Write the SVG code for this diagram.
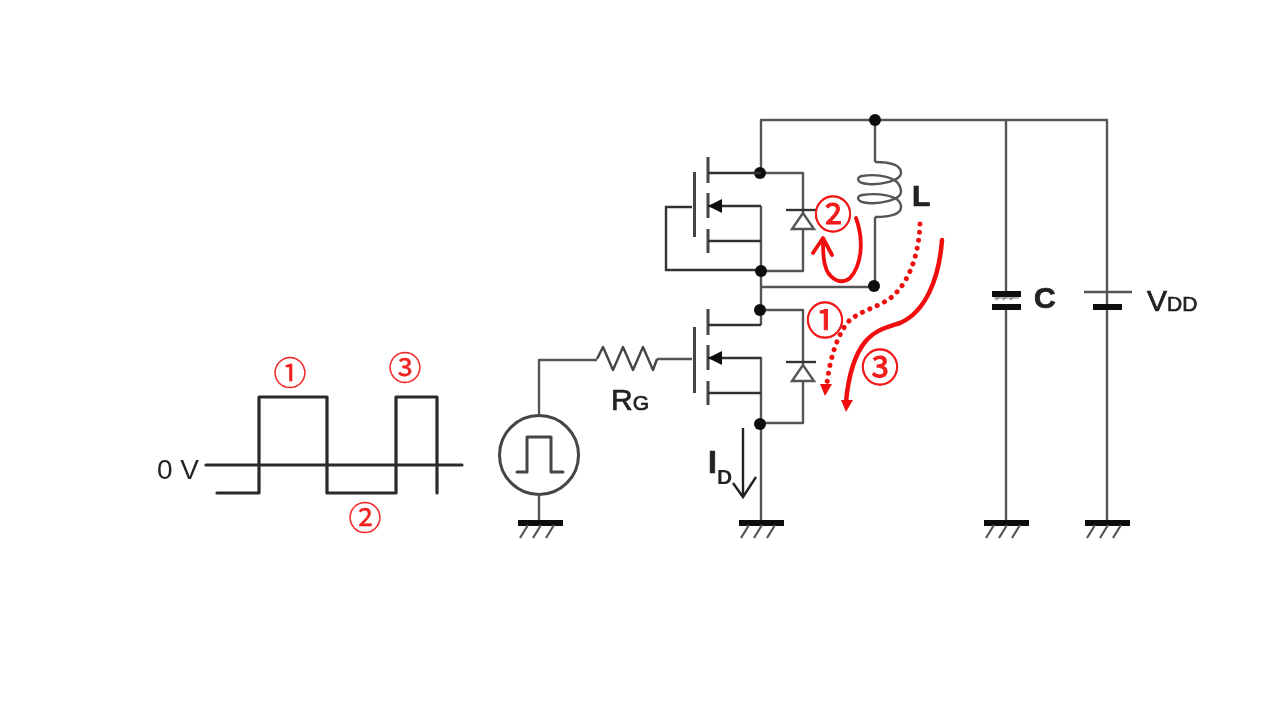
<svg xmlns="http://www.w3.org/2000/svg" width="1270" height="712" viewBox="0 0 1270 712">
<style>
.w{fill:none;stroke:#555;stroke-width:2.4;stroke-linejoin:round}
.t{fill:none;stroke:#444;stroke-width:3}
.k{fill:none;stroke:#333;stroke-width:2.4}
.b{fill:none;stroke:#2a2a2a;stroke-width:3.2;stroke-linejoin:round;stroke-linecap:round}
.bar{fill:none;stroke:#111;stroke-width:6}
.hatch{fill:none;stroke:#555;stroke-width:2.2}
.dot{fill:#111}
.red{fill:none;stroke:#f01010;stroke-linecap:round;stroke-linejoin:round}
.rf{fill:#f01010}
.lab{font-family:"Liberation Sans",Arial,sans-serif;fill:#222}
.heavy{stroke:#222;stroke-width:.7}
.num{font-family:"Noto Sans CJK JP","Noto Sans CJK SC",sans-serif;fill:#f02020;text-anchor:middle}
.thin{stroke:#f02020;stroke-width:.4}
.s{stroke:#f01010;stroke-width:.9}
</style>
<defs>
<filter id="soft" x="0" y="0" width="100%" height="100%" filterUnits="userSpaceOnUse"><feGaussianBlur stdDeviation="0.45"/></filter>
<g id="gnd"><path class="bar" d="M-22 0H23"/><path class="hatch" d="M-12 2L-20 15M1 2L-7 15M14 2L6 15"/></g>
<g id="fet">
<path class="t" d="M708 -15V11M708 21V46M708 57V81"/>
<path class="k" d="M708 1H761M708 34H761M708 69H761"/>
<path d="M708 34L722 27V41Z" fill="#111"/>
</g>
<g id="dio"><path class="k" d="M786 0H816"/><path d="M803 3L792 19H814Z" fill="#fff" stroke="#555" stroke-width="2.4"/></g>
</defs>
<rect width="1270" height="712" fill="#fff"/>
<g filter="url(#soft)">
<g id="connectors">
<path class="w" d="M761 173V120H1107V523"/>
<path class="w" d="M1006 120V294M1006 307V523"/>
<path class="w" d="M875 120V162M875 217V286"/>
<path class="w" d="M761 173H803V214M803 229V271H761"/>
<path class="w" d="M761 206V325M761 357V522"/>
<path class="w" d="M761 287H875"/>
<path class="w" d="M761 310H803V365M803 382V423H761"/>
<path class="k" d="M692 207H666V270H761"/>
<path class="w" d="M539 415V360H597M657 359H692"/>
<path class="w" d="M539 496V522"/>
</g>
<g id="dots" class="dot">
<circle cx="875" cy="120" r="6"/><circle cx="760" cy="173" r="6"/><circle cx="761" cy="271" r="6"/><circle cx="874" cy="286" r="6"/><circle cx="760" cy="310" r="6"/><circle cx="760" cy="424" r="6"/>
</g>
<g id="fet-high"><path class="t" d="M694.5 172V237"/><use href="#fet" transform="translate(0,172)"/></g>
<g id="fet-low"><path class="t" d="M694.5 327V393"/><use href="#fet" transform="translate(0,324)"/></g>
<g id="diode-high"><use href="#dio" transform="translate(0,210)"/></g>
<g id="diode-low"><use href="#dio" transform="translate(0,362)"/></g>
<g id="inductor">
<path fill="none" stroke="#555" stroke-width="2.4" d="M875 162C888 162 901 164 901 173C901 181 880 185 868 184C856 183 856 177 862 176C875 174 901 175 901 192C901 200 880 204 868 203C856 202 856 196 862 195C875 193 901 194 901 207C901 215 888 217 875 217"/>
<text class="lab heavy" x="912" y="206" font-size="30" font-weight="700">L</text>
</g>
<g id="resistor">
<path fill="none" stroke="#444" stroke-width="2.4" stroke-linejoin="round" d="M597 359L603 347L613 370L623 347L633 370L643 347L653 370L657 359"/>
<text class="lab heavy" x="611" y="410"><tspan font-size="30">R</tspan><tspan font-size="21">G</tspan></text>
</g>
<g id="source">
<circle cx="539" cy="455" r="39.5" fill="none" stroke="#444" stroke-width="3"/>
<path fill="none" stroke="#444" stroke-width="3" stroke-linejoin="round" stroke-linecap="round" d="M517 472H527V437H551V472H563"/>
</g>
<g id="gnd-source"><use href="#gnd" transform="translate(540,523)"/></g>
<g id="gnd-fet"><use href="#gnd" transform="translate(761,523)"/></g>
<g id="gnd-cap"><use href="#gnd" transform="translate(1006,523)"/></g>
<g id="gnd-bat"><use href="#gnd" transform="translate(1107,523)"/></g>
<g id="capacitor">
<path class="bar" d="M992 294H1021M992 307H1021" stroke-width="5"/>
<path fill="none" stroke="#777" stroke-width="1.2" d="M996 300L999 297M1003 300L1006 297M1010 300L1013 297M994 298H1019"/>
<text class="lab heavy" x="1034" y="308" font-size="30" font-weight="700">C</text>
</g>
<g id="battery">
<path class="w" d="M1084 292H1132"/>
<path class="bar" d="M1093 307H1122" stroke-width="5"/>
<text class="lab heavy" x="1147" y="311"><tspan font-size="30">V</tspan><tspan font-size="21">DD</tspan></text>
</g>
<g id="id-label">
<path fill="none" stroke="#222" stroke-width="2.4" d="M743 428V497M733 483L743 497L756 477"/>
<text class="lab heavy" x="708" y="473" font-size="32" font-weight="700">I</text>
<text class="lab" x="717" y="484" font-size="21" font-weight="700">D</text>
</g>
<g id="waveform">
<path class="b" d="M206 465H462" stroke-width="3"/>
<path class="b" d="M217 493H259V397H327V493H396V397H437V493"/>
<text class="lab" x="157" y="479" font-size="28">0 V</text>
<text class="num thin" x="290" y="385" font-size="33">①</text>
<text class="num thin" x="365" y="530" font-size="33">②</text>
<text class="num thin" x="405" y="380" font-size="33">③</text>
</g>
<g id="current-paths">
<path class="red" stroke-width="5" stroke-dasharray="0.1 8" d="M920 224C919 250 912 275 897 292C885 306 865 308 850 320C838 332 830 358 827 383"/>
<path class="rf" d="M820 384H832L825 396Z"/>
<path class="red" stroke-width="4.5" d="M942 240C939 280 925 312 900 323C885 328 875 330 865 342C853 357 848 380 846 402"/>
<path class="rf" d="M841 400H853L846 412Z"/>
<path class="red" stroke-width="3.8" d="M856 218C864 240 862 265 850 278C840 286 828 278 825 265C823 258 823 250 823 240M813 253L823 238L832 255"/>
<text class="num s" x="833" y="228" font-size="38">②</text>
<text class="num s" x="825" y="334" font-size="38">①</text>
<text class="num s" x="880" y="381" font-size="38">③</text>
</g>
</g>
</svg>
